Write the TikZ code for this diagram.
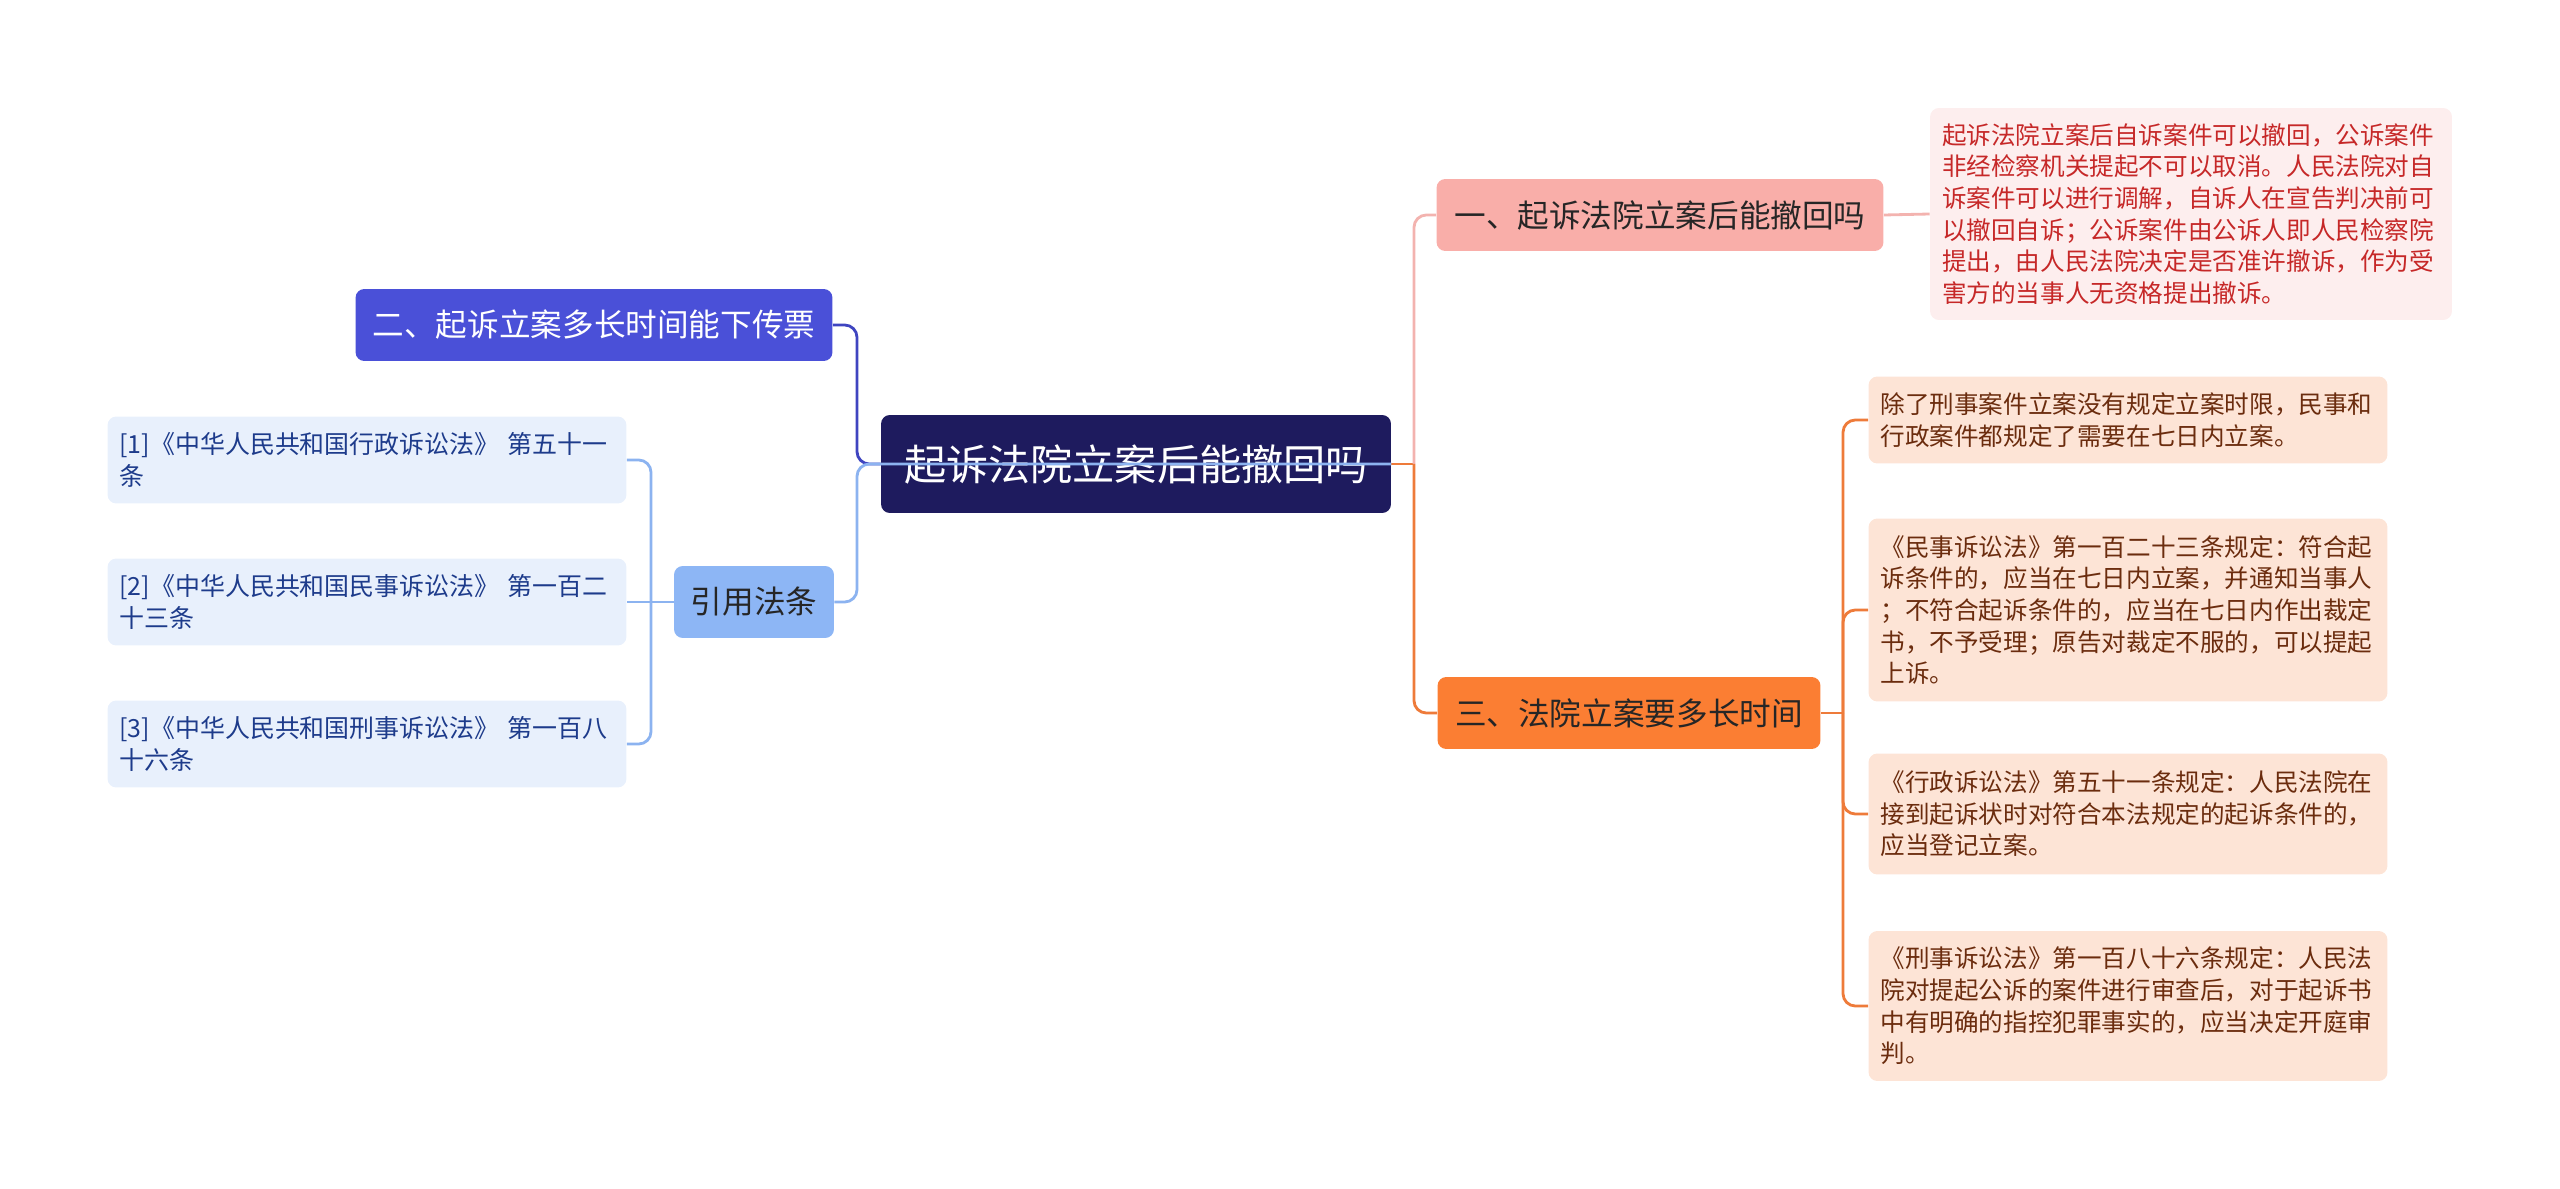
\documentclass[tikz,border=0pt]{standalone}
\usepackage{fontspec}
\usepackage{xcolor}
\usepackage{tikz}
\usetikzlibrary{positioning}
\newfontfamily\cjk{Noto Sans CJK SC}

\definecolor{rootfill}{HTML}{1E1B5E}
\definecolor{pinkfill}{HTML}{F9AEA9}
\definecolor{pinkline}{HTML}{F3B3AF}
\definecolor{redfill}{HTML}{FDEEEE}
\definecolor{redtext}{HTML}{C62828}
\definecolor{bluefill}{HTML}{4A50D8}
\definecolor{blueline}{HTML}{3F45C0}
\definecolor{citefill}{HTML}{8DB6F5}
\definecolor{citeline}{HTML}{8CB3F0}
\definecolor{reffill}{HTML}{E8F0FC}
\definecolor{reftext}{HTML}{1D3B8B}
\definecolor{orangefill}{HTML}{FB7E33}
\definecolor{orangeline}{HTML}{EE7B3A}
\definecolor{notefill}{HTML}{FDE4D6}
\definecolor{notetext}{HTML}{6B2C0E}

\tikzset{link/.style = {line width=1.6pt, rounded corners=7pt}}

\begin{document}
\begin{tikzpicture}[x=0.02cm,y=-0.02cm,
    root node/.style={rectangle,rounded corners=5pt,fill=rootfill,text=white,
        minimum width=10.2cm,minimum height=1.96cm,font=\cjk\fontsize{24}{28}\selectfont},
    topic node/.style={rectangle,rounded corners=5pt,minimum height=1.44cm,
        font=\cjk\fontsize{18}{22}\selectfont},
    note node/.style={rectangle,rounded corners=5pt,align=left,inner xsep=0.24cm,
        text width=9.9cm,font=\cjk\fontsize{14}{18}\selectfont},
    ref node/.style={rectangle,rounded corners=5pt,align=left,inner xsep=0.24cm,fill=reffill,
        text=reftext,text width=9.9cm,minimum height=1.74cm,font=\cjk\fontsize{14.2}{18}\selectfont}]
    \useasboundingbox (0,0) rectangle (2560,1189);

            \node[root node] (root) at (1136,464) {起诉法院立案后能撤回吗};

            \node[topic node,fill=pinkfill,text=black!85,minimum width=8.94cm] (one) at (1660,215) {一、起诉法院立案后能撤回吗};
            \node[note node,fill=redfill,text=redtext,text width=9.96cm,minimum height=4.24cm] (onenote) at (2191,214)
                {起诉法院立案后自诉案件可以撤回，公诉案件\\非经检察机关提起不可以取消。人民法院对自\\诉案件可以进行调解，自诉人在宣告判决前可\\以撤回自诉；公诉案件由公诉人即人民检察院\\提出，由人民法院决定是否准许撤诉，作为受\\害方的当事人无资格提出撤诉。};

            \node[topic node,fill=bluefill,text=white,minimum width=9.54cm] (two) at (594,325) {二、起诉立案多长时间能下传票};
            \node[topic node,fill=citefill,text=black!85,minimum width=3.2cm] (cite) at (754,602) {引用法条};
            \node[ref node] (ref1) at (367,460) {[1]《中华人民共和国行政诉讼法》 第五十一\\条};
            \node[ref node] (ref2) at (367,602) {[2]《中华人民共和国民事诉讼法》 第一百二\\十三条};
            \node[ref node] (ref3) at (367,744) {[3]《中华人民共和国刑事诉讼法》 第一百八\\十六条};

            \node[topic node,fill=orangefill,text=black!85,minimum width=7.66cm] (three) at (1629,713) {三、法院立案要多长时间};
            \node[note node,fill=notefill,text=notetext,minimum height=1.74cm] (note1) at (2128,420)
                {除了刑事案件立案没有规定立案时限，民事和\\行政案件都规定了需要在七日内立案。};
            \node[note node,fill=notefill,text=notetext,minimum height=3.66cm] (note2) at (2128,610)
                {《民事诉讼法》第一百二十三条规定：符合起\\诉条件的，应当在七日内立案，并通知当事人\\；不符合起诉条件的，应当在七日内作出裁定\\书，不予受理；原告对裁定不服的，可以提起\\上诉。};
            \node[note node,fill=notefill,text=notetext,minimum height=2.42cm] (note3) at (2128,814)
                {《行政诉讼法》第五十一条规定：人民法院在\\接到起诉状时对符合本法规定的起诉条件的，\\应当登记立案。};
            \node[note node,fill=notefill,text=notetext,minimum height=3.0cm] (note4) at (2128,1006)
                {《刑事诉讼法》第一百八十六条规定：人民法\\院对提起公诉的案件进行审查后，对于起诉书\\中有明确的指控犯罪事实的，应当决定开庭审\\判。};

            \coordinate (rt) at (1414,464);
            \coordinate (lt) at (857,464);
            \coordinate (ct) at (651,602);
            \coordinate (ot) at (1843,713);

            \draw[link,orangeline] (root.east) -- (rt);
            \draw[link,pinkline] (rt) |- (one.west);
            \draw[link,orangeline] (rt) |- (three.west);
            \draw[link,pinkline] (one.east) -- (onenote.west);

            \draw[link,orangeline] (three.east) -- (ot);
            \draw[link,orangeline] (ot) |- (note1.west);
            \draw[link,orangeline] (ot) |- (note2.west);
            \draw[link,orangeline] (ot) |- (note3.west);
            \draw[link,orangeline] (ot) |- (note4.west);

            \draw[link,blueline] (two.east) -| (lt) -- (root.west);
            \draw[link,citeline] (cite.east) -| (lt) -- (root.east);

            \draw[link,citeline] (cite.west) -- (ref2.east);
            \draw[link,citeline] (ct) |- (ref1.east);
            \draw[link,citeline] (ct) |- (ref3.east);

        \end{tikzpicture}
\end{document}
